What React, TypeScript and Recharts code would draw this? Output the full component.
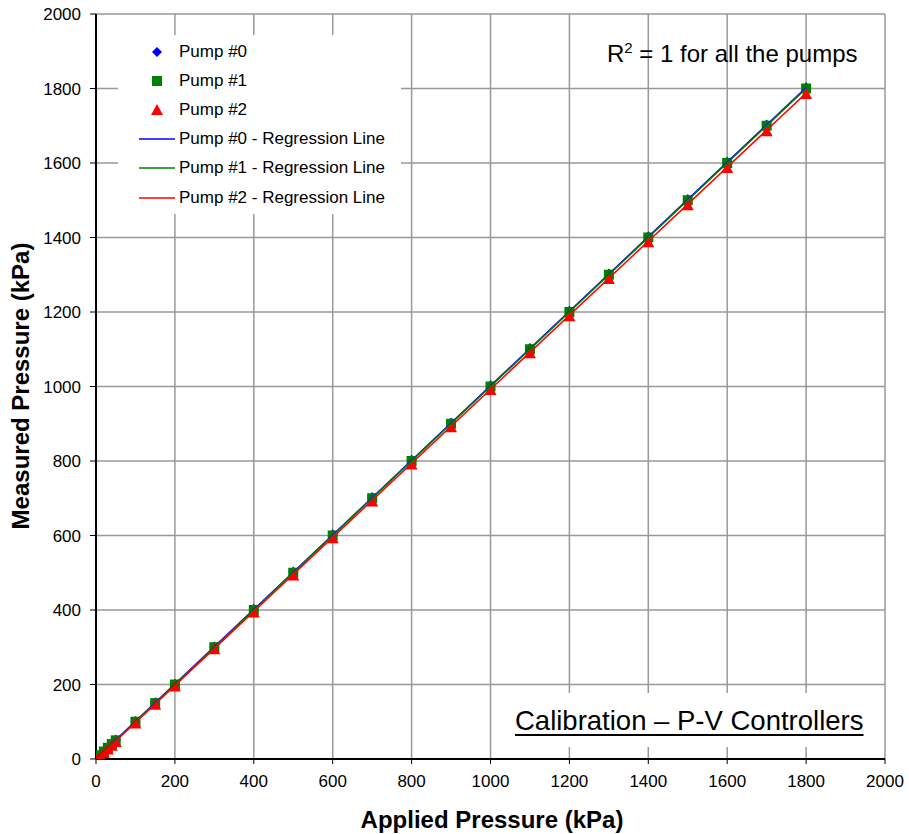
import React from 'react';
import { ScatterChart, Scatter, XAxis, YAxis, CartesianGrid } from 'recharts';

// applied pressure (kPa) at each calibration step
const APPLIED = [0, 10, 20, 30, 40, 50, 100, 150, 200, 300, 400, 500, 600, 700, 800, 900, 1000, 1100, 1200, 1300, 1400, 1500, 1600, 1700, 1800];
// measured pressure (kPa) per pump
const PUMP0 = [1, 11, 21, 31, 41, 51, 101, 151, 201, 301, 402, 502, 602, 702, 802, 902, 1002, 1102, 1202, 1302, 1402, 1502, 1602, 1702, 1802];
const PUMP1 = [0, 10, 20, 30, 40, 50, 100, 150, 200, 300, 400, 500, 600, 700, 800, 900, 1000, 1100, 1200, 1300, 1400, 1500, 1600, 1700, 1800];
const PUMP2 = [0, 8, 18, 28, 38, 48, 98, 148, 197, 297, 396, 495, 595, 694, 793, 893, 993, 1092, 1191, 1291, 1390, 1489, 1589, 1688, 1788];
const AXIS_TICKS = [0, 200, 400, 600, 800, 1000, 1200, 1400, 1600, 1800, 2000];

const PUMP_NAMES = ['Pump #0', 'Pump #1', 'Pump #2'];
const COLORS = ['#0000ff', '#008000', '#ff0000'];

const FONT = 'Arial, "Liberation Sans", Helvetica, sans-serif';

const toPoints = (ys: number[]) => APPLIED.map((x, i) => ({ x, y: ys[i] }));

// least squares fit, evaluated at the first and last applied pressure
function regression(ys: number[]) {
  const n = APPLIED.length;
  let sx = 0, sy = 0, sxx = 0, sxy = 0;
  APPLIED.forEach((x, i) => {
    sx += x; sy += ys[i]; sxx += x * x; sxy += x * ys[i];
  });
  const slope = (n * sxy - sx * sy) / (n * sxx - sx * sx);
  const icpt = (sy - slope * sx) / n;
  const ends = [APPLIED[0], APPLIED[APPLIED.length - 1]];
  return ends.map((x) => ({ x, y: icpt + slope * x }));
}

const Diamond = (p: any) => (
  <path d={`M${p.cx},${p.cy - 5.5}L${p.cx + 5},${p.cy}L${p.cx},${p.cy + 5.5}L${p.cx - 5},${p.cy}Z`} fill={COLORS[0]} />
);
const Square = (p: any) => (
  <rect x={p.cx - 5} y={p.cy - 5} width={10} height={10} fill={COLORS[1]} />
);
const Triangle = (p: any) => (
  <path d={`M${p.cx},${p.cy - 5}L${p.cx + 6},${p.cy + 6}L${p.cx - 6},${p.cy + 6}Z`} fill={COLORS[2]} />
);
const NoDot = () => <g />;

const LegendIcon = ({ kind, color }: { kind: string; color: string }) => (
  <svg width={40} height={16} style={{ display: 'block' }}>
    {kind === 'diamond' && <path d="M19,3L24,8L19,13L14,8Z" fill={color} />}
    {kind === 'square' && <rect x={14} y={3} width={10} height={10} fill={color} />}
    {kind === 'triangle' && <path d="M19,2L25,13L13,13Z" fill={color} />}
    {kind === 'line' && <line x1={1} y1={8} x2={37} y2={8} stroke={color} strokeWidth={1.5} />}
  </svg>
);

const legendRows = [
  { kind: 'diamond', color: COLORS[0], text: PUMP_NAMES[0] },
  { kind: 'square', color: COLORS[1], text: PUMP_NAMES[1] },
  { kind: 'triangle', color: COLORS[2], text: PUMP_NAMES[2] },
  ...PUMP_NAMES.map((n, i) => ({ kind: 'line', color: COLORS[i], text: `${n} - Regression Line` })),
];

export default function App() {
  const axisTick = { fill: '#000', fontSize: 17, fontFamily: FONT };
  const axisLine = { stroke: '#000', strokeWidth: 2 };

  return (
    <div style={{
      position: 'absolute', left: 0, top: 0, width: 909, height: 834,
      overflow: 'hidden', fontFamily: FONT,
    }}>
      <ScatterChart width={909} height={834} margin={{ top: 14, right: 24, left: 0, bottom: 0 }}>
        <CartesianGrid stroke="#999" strokeWidth={1.5} />
        <XAxis
          type="number"
          dataKey="x"
          domain={[0, 2000]}
          ticks={AXIS_TICKS}
          interval={0}
          height={75}
          tickSize={5}
          tickMargin={11}
          axisLine={axisLine}
          tickLine={{ stroke: '#000' }}
          tick={axisTick}
          allowDataOverflow
        />
        <YAxis
          type="number"
          dataKey="y"
          domain={[0, 2000]}
          ticks={AXIS_TICKS}
          interval={0}
          width={96}
          tickSize={6}
          tickMargin={9}
          axisLine={axisLine}
          tickLine={{ stroke: '#000' }}
          tick={axisTick}
          allowDataOverflow
        />
        <Scatter data={toPoints(PUMP0)} shape={Diamond} isAnimationActive={false} />
        <Scatter data={toPoints(PUMP1)} shape={Square} isAnimationActive={false} />
        <Scatter data={toPoints(PUMP2)} shape={Triangle} isAnimationActive={false} />
        {[PUMP0, PUMP1, PUMP2].map((ys, i) => (
          <Scatter
            key={i}
            data={regression(ys)}
            shape={NoDot}
            line={{ stroke: COLORS[i], strokeWidth: 1.5 }}
            isAnimationActive={false}
          />
        ))}
      </ScatterChart>

      {/* legend box */}
      <div style={{
        position: 'absolute', left: 118, top: 35, width: 283, height: 179,
        background: '#fff', paddingTop: 2, boxSizing: 'border-box',
      }}>
        {legendRows.map((r) => (
          <div key={r.text} style={{ display: 'flex', alignItems: 'center', height: 29.2 }}>
            <div style={{ marginLeft: 20 }}><LegendIcon kind={r.kind} color={r.color} /></div>
            <span style={{ marginLeft: 1, fontSize: 17, color: '#000', whiteSpace: 'nowrap' }}>{r.text}</span>
          </div>
        ))}
      </div>

      <div style={{
        position: 'absolute', left: 607, top: 42, fontSize: 24, lineHeight: '24px',
        whiteSpace: 'nowrap', color: '#000',
      }}>
        R<sup style={{ fontSize: 15, verticalAlign: 'super', lineHeight: 0 }}>2</sup> = 1 for all the pumps
      </div>

      <div style={{
        position: 'absolute', left: 500, top: 693, width: 376, height: 54, background: '#fff',
      }}>
        <div style={{
          position: 'absolute', left: 15, top: 14, fontSize: 27.5, lineHeight: '27px',
          whiteSpace: 'nowrap', textDecoration: 'underline', textUnderlineOffset: 4,
          textDecorationThickness: 2, color: '#000',
        }}>
          Calibration – P-V Controllers
        </div>
      </div>

      <div style={{
        position: 'absolute', left: 492, top: 808, transform: 'translateX(-50%)',
        fontSize: 24, lineHeight: '24px', fontWeight: 'bold', whiteSpace: 'nowrap',
      }}>
        Applied Pressure (kPa)
      </div>
      <div style={{
        position: 'absolute', left: 21, top: 386, transform: 'translate(-50%, -50%) rotate(-90deg)',
        fontSize: 24, lineHeight: '24px', fontWeight: 'bold', whiteSpace: 'nowrap',
      }}>
        Measured Pressure (kPa)
      </div>
    </div>
  );
}
